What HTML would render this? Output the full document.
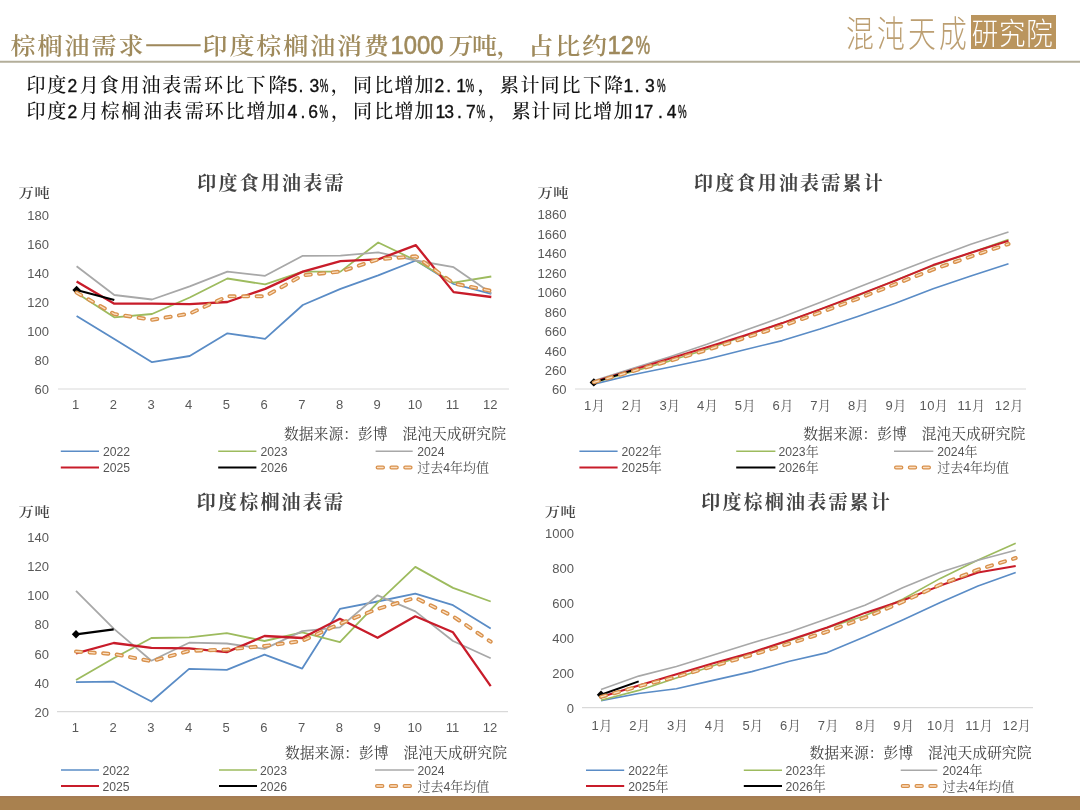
<!DOCTYPE html>
<html lang="zh-CN"><head><meta charset="utf-8"><title>棕榈油需求</title>
<style>
html,body{margin:0;padding:0;background:#fff;}
body{width:1080px;height:810px;overflow:hidden;position:relative;}
svg{position:absolute;left:0;top:0;display:block;}
</style></head><body>
<svg width="1080" height="810" viewBox="0 0 1080 810">
<rect x="0" y="0" width="1080" height="810" fill="#FFFFFF"/>
<!-- header -->
<text transform="translate(10.5,54.2) scale(1,0.9)" style="font-family:'Noto Serif CJK SC',serif;font-weight:600;font-size:25px;letter-spacing:2px" fill="#9F8A5C">棕榈油需求</text>
<text transform="translate(145.2,52.4) scale(1.3,1)" style="font-family:'Noto Serif CJK SC',serif;font-weight:600;font-size:25px;letter-spacing:-1px" fill="#9F8A5C" stroke="#9F8A5C" stroke-width="0.55">——</text>
<text transform="translate(202.6,54.2) scale(1,0.9)" style="font-family:'Noto Serif CJK SC',serif;font-weight:600;font-size:25px;letter-spacing:1.9px" fill="#9F8A5C">印度棕榈油消费</text>
<text transform="translate(390.5,54.2) scale(0.9,1)" style="font-family:'Liberation Sans',sans-serif;font-weight:400;font-size:26.5px;letter-spacing:0px" fill="#9F8A5C" stroke="#9F8A5C" stroke-width="0.6">1000</text>
<text transform="translate(0,54.2) scale(1,0.9)" x="448.4 472 496.5 528.2 555.3 582" y="0" style="font-family:'Noto Serif CJK SC',serif;font-weight:600;font-size:25px" fill="#9F8A5C">万吨，占比约</text>
<text transform="translate(607.5,54.2) scale(0.9,1)" style="font-family:'Liberation Sans',sans-serif;font-weight:400;font-size:26.5px" fill="#9F8A5C" stroke="#9F8A5C" stroke-width="0.6">12</text>
<text transform="translate(635.5,54.2) scale(0.62,1)" style="font-family:'Liberation Sans',sans-serif;font-weight:400;font-size:26.5px" fill="#9F8A5C" stroke="#9F8A5C" stroke-width="0.7">%</text>
<line x1="0" x2="1080" y1="61.8" y2="61.8" stroke="#B3AE9A" stroke-width="2"/>
<!-- logo -->
<g transform="translate(846,47.2) scale(0.96,1.25)"><text x="0" y="0" style="font-family:'Noto Sans CJK SC',sans-serif;font-weight:300;font-size:29px;letter-spacing:3.3px" fill="#BC9F72">混沌天成</text></g>
<rect x="971" y="15" width="85" height="34" fill="#BA955E"/>
<g transform="translate(1012.6,43.6) scale(1.0,1.12)"><text x="0" y="0" text-anchor="middle" style="font-family:'Noto Sans CJK SC',sans-serif;font-weight:300;font-size:26.5px;letter-spacing:0.8px" fill="#FFFFFF">研究院</text></g>
<!-- subtitle -->
<text y="91.5" fill="#111"><tspan x="26.4 47.2" style="font-family:'Noto Serif CJK SC',serif;font-size:19px;font-weight:500">印度</tspan><tspan x="67.4" style="font-family:'Liberation Sans',sans-serif;font-size:17.5px" stroke="#111" stroke-width="0.35">2</tspan><tspan x="79.7 99.7 120.6 141.4 162.2 183.1 203.9 224.9 246.4 268.5" style="font-family:'Noto Serif CJK SC',serif;font-size:19px;font-weight:500">月食用油表需环比下降</tspan><tspan x="287.6 298.4 309.5" style="font-family:'Liberation Sans',sans-serif;font-size:17.5px" stroke="#111" stroke-width="0.35">5.3</tspan><tspan x="319.8" textLength="8.6" lengthAdjust="spacingAndGlyphs" style="font-family:'Liberation Sans',sans-serif;font-size:17.5px" stroke="#111" stroke-width="0.45">%</tspan><tspan x="330.8 352.9 374.3 394.6 414.5" style="font-family:'Noto Serif CJK SC',serif;font-size:19px;font-weight:500">，同比增加</tspan><tspan x="434.6 446.2 456.3" style="font-family:'Liberation Sans',sans-serif;font-size:17.5px" stroke="#111" stroke-width="0.35">2.1</tspan><tspan x="465.4" textLength="8.6" lengthAdjust="spacingAndGlyphs" style="font-family:'Liberation Sans',sans-serif;font-size:17.5px" stroke="#111" stroke-width="0.45">%</tspan><tspan x="477.6 500.1 520.6 540.6 561.4 583.1 603.9" style="font-family:'Noto Serif CJK SC',serif;font-size:19px;font-weight:500">，累计同比下降</tspan><tspan x="623.4 634.7 644.9" style="font-family:'Liberation Sans',sans-serif;font-size:17.5px" stroke="#111" stroke-width="0.35">1.3</tspan><tspan x="656.9" textLength="8.6" lengthAdjust="spacingAndGlyphs" style="font-family:'Liberation Sans',sans-serif;font-size:17.5px" stroke="#111" stroke-width="0.45">%</tspan></text>
<text y="117.5" fill="#111"><tspan x="26.4 47.2" style="font-family:'Noto Serif CJK SC',serif;font-size:19px;font-weight:500">印度</tspan><tspan x="67.4" style="font-family:'Liberation Sans',sans-serif;font-size:17.5px" stroke="#111" stroke-width="0.35">2</tspan><tspan x="79.7 100.6 121.4 143.1 163.1 184.7 204.7 225.6 246.4 266.4" style="font-family:'Noto Serif CJK SC',serif;font-size:19px;font-weight:500">月棕榈油表需环比增加</tspan><tspan x="287.4 300.5 308.3" style="font-family:'Liberation Sans',sans-serif;font-size:17.5px" stroke="#111" stroke-width="0.35">4.6</tspan><tspan x="319.4" textLength="8.6" lengthAdjust="spacingAndGlyphs" style="font-family:'Liberation Sans',sans-serif;font-size:17.5px" stroke="#111" stroke-width="0.45">%</tspan><tspan x="331.1 353.1 374.3 394.6 414.5" style="font-family:'Noto Serif CJK SC',serif;font-size:19px;font-weight:500">，同比增加</tspan><tspan x="435.4 444.2 456.9 466.1" style="font-family:'Liberation Sans',sans-serif;font-size:17.5px" stroke="#111" stroke-width="0.35">13.7</tspan><tspan x="476.6" textLength="8.6" lengthAdjust="spacingAndGlyphs" style="font-family:'Liberation Sans',sans-serif;font-size:17.5px" stroke="#111" stroke-width="0.45">%</tspan><tspan x="488.2 511.8 531.3 551.7 572.9 593.3 613.7" style="font-family:'Noto Serif CJK SC',serif;font-size:19px;font-weight:500">，累计同比增加</tspan><tspan x="634.4 643.5 658.0 666.7" style="font-family:'Liberation Sans',sans-serif;font-size:17.5px" stroke="#111" stroke-width="0.35">17.4</tspan><tspan x="678.1" textLength="8.6" lengthAdjust="spacingAndGlyphs" style="font-family:'Liberation Sans',sans-serif;font-size:17.5px" stroke="#111" stroke-width="0.45">%</tspan></text>
<text x="271.5" y="189.5" text-anchor="middle" style="font-family:'Noto Serif CJK SC',serif;font-weight:700;font-size:19px;letter-spacing:2.2px" fill="#444444">印度食用油表需</text>
<text transform="translate(18.6,197.3) scale(1.13,0.93)" style="font-family:'Noto Serif CJK SC',serif;font-size:13.5px;letter-spacing:0.5px;font-weight:600" fill="#444">万吨</text>
<text x="49" y="219.6" text-anchor="end" style="font-family:'Liberation Sans',Arial,sans-serif;font-size:13px" fill="#595959">180</text>
<text x="49" y="248.7" text-anchor="end" style="font-family:'Liberation Sans',Arial,sans-serif;font-size:13px" fill="#595959">160</text>
<text x="49" y="277.8" text-anchor="end" style="font-family:'Liberation Sans',Arial,sans-serif;font-size:13px" fill="#595959">140</text>
<text x="49" y="306.9" text-anchor="end" style="font-family:'Liberation Sans',Arial,sans-serif;font-size:13px" fill="#595959">120</text>
<text x="49" y="336.0" text-anchor="end" style="font-family:'Liberation Sans',Arial,sans-serif;font-size:13px" fill="#595959">100</text>
<text x="49" y="365.1" text-anchor="end" style="font-family:'Liberation Sans',Arial,sans-serif;font-size:13px" fill="#595959">80</text>
<text x="49" y="394.2" text-anchor="end" style="font-family:'Liberation Sans',Arial,sans-serif;font-size:13px" fill="#595959">60</text>
<line x1="58" x2="509" y1="389" y2="389" stroke="#D9D9D9" stroke-width="1.2"/>
<text x="75.6" y="409" text-anchor="middle" style="font-family:'Liberation Sans','Noto Serif CJK SC',serif;font-size:13px" fill="#595959">1</text>
<text x="113.3" y="409" text-anchor="middle" style="font-family:'Liberation Sans','Noto Serif CJK SC',serif;font-size:13px" fill="#595959">2</text>
<text x="151.0" y="409" text-anchor="middle" style="font-family:'Liberation Sans','Noto Serif CJK SC',serif;font-size:13px" fill="#595959">3</text>
<text x="188.7" y="409" text-anchor="middle" style="font-family:'Liberation Sans','Noto Serif CJK SC',serif;font-size:13px" fill="#595959">4</text>
<text x="226.4" y="409" text-anchor="middle" style="font-family:'Liberation Sans','Noto Serif CJK SC',serif;font-size:13px" fill="#595959">5</text>
<text x="264.1" y="409" text-anchor="middle" style="font-family:'Liberation Sans','Noto Serif CJK SC',serif;font-size:13px" fill="#595959">6</text>
<text x="301.8" y="409" text-anchor="middle" style="font-family:'Liberation Sans','Noto Serif CJK SC',serif;font-size:13px" fill="#595959">7</text>
<text x="339.5" y="409" text-anchor="middle" style="font-family:'Liberation Sans','Noto Serif CJK SC',serif;font-size:13px" fill="#595959">8</text>
<text x="377.2" y="409" text-anchor="middle" style="font-family:'Liberation Sans','Noto Serif CJK SC',serif;font-size:13px" fill="#595959">9</text>
<text x="414.9" y="409" text-anchor="middle" style="font-family:'Liberation Sans','Noto Serif CJK SC',serif;font-size:13px" fill="#595959">10</text>
<text x="452.6" y="409" text-anchor="middle" style="font-family:'Liberation Sans','Noto Serif CJK SC',serif;font-size:13px" fill="#595959">11</text>
<text x="490.3" y="409" text-anchor="middle" style="font-family:'Liberation Sans','Noto Serif CJK SC',serif;font-size:13px" fill="#595959">12</text>
<polyline points="76.6,316.0 114.3,339.0 152.0,362.2 189.7,356.0 227.4,333.3 265.1,338.8 302.8,305.0 340.5,288.9 378.2,275.3 415.9,260.5 453.6,284.0 491.3,293.8" fill="none" stroke="#5A8CC6" stroke-width="1.80" stroke-linejoin="round"/>
<polyline points="76.6,293.0 114.3,317.3 152.0,314.0 189.7,297.5 227.4,278.5 265.1,284.4 302.8,271.6 340.5,271.6 378.2,242.5 415.9,260.5 453.6,282.7 491.3,276.5" fill="none" stroke="#9DBB5E" stroke-width="1.80" stroke-linejoin="round"/>
<polyline points="76.6,266.2 114.3,295.0 152.0,299.5 189.7,286.4 227.4,271.6 265.1,275.8 302.8,255.8 340.5,255.6 378.2,252.3 415.9,260.5 453.6,267.2 491.3,293.3" fill="none" stroke="#A8A8A8" stroke-width="1.80" stroke-linejoin="round"/>
<polyline points="76.6,281.5 114.3,303.7 152.0,303.7 189.7,304.2 227.4,302.0 265.1,288.9 302.8,271.6 340.5,261.2 378.2,259.3 415.9,245.2 453.6,292.1 491.3,297.0" fill="none" stroke="#C81C2A" stroke-width="2.30" stroke-linejoin="round"/>
<polyline points="76.6,290.0 114.3,300.0" fill="none" stroke="#000000" stroke-width="2.20" stroke-linejoin="round"/>
<path d="M72.4,290.0 L76.6,285.8 L80.8,290.0 L76.6,294.2 Z" fill="#000"/>
<polyline points="76.6,292.6 114.3,314.0 152.0,319.8 189.7,313.6 227.4,296.3 265.1,296.3 302.8,275.3 340.5,271.6 378.2,259.3 415.9,256.3 453.6,283.5 491.3,290.9" fill="none" stroke="#D8914C" stroke-width="4" stroke-dasharray="5.2 8.4" stroke-linecap="round" stroke-linejoin="round"/>
<polyline points="76.6,292.6 114.3,314.0 152.0,319.8 189.7,313.6 227.4,296.3 265.1,296.3 302.8,275.3 340.5,271.6 378.2,259.3 415.9,256.3 453.6,283.5 491.3,290.9" fill="none" stroke="#FBE0C4" stroke-width="1.3" stroke-dasharray="5.2 8.4" stroke-linecap="round" stroke-linejoin="round"/>
<text x="284" y="438.8" style="font-family:'Liberation Sans','Noto Serif CJK SC',serif;font-size:14.8px;letter-spacing:0px" fill="#404040">数据来源：彭博　混沌天成研究院</text>
<line x1="60.8" x2="99" y1="451.3" y2="451.3" stroke="#5A8CC6" stroke-width="1.53"/>
<text x="103" y="455.9" style="font-family:'Liberation Sans','Noto Serif CJK SC',serif;font-size:13px" fill="#555555"><tspan style="font-family:'Liberation Sans',sans-serif;font-size:12.2px">2022</tspan></text>
<line x1="218.2" x2="256.4" y1="451.3" y2="451.3" stroke="#9DBB5E" stroke-width="1.53"/>
<text x="260.4" y="455.9" style="font-family:'Liberation Sans','Noto Serif CJK SC',serif;font-size:13px" fill="#555555"><tspan style="font-family:'Liberation Sans',sans-serif;font-size:12.2px">2023</tspan></text>
<line x1="375.6" x2="412.7" y1="451.3" y2="451.3" stroke="#A8A8A8" stroke-width="1.53"/>
<text x="417.3" y="455.9" style="font-family:'Liberation Sans','Noto Serif CJK SC',serif;font-size:13px" fill="#555555"><tspan style="font-family:'Liberation Sans',sans-serif;font-size:12.2px">2024</tspan></text>
<line x1="60.8" x2="99" y1="467.5" y2="467.5" stroke="#C81C2A" stroke-width="1.95"/>
<text x="103" y="472.1" style="font-family:'Liberation Sans','Noto Serif CJK SC',serif;font-size:13px" fill="#555555"><tspan style="font-family:'Liberation Sans',sans-serif;font-size:12.2px">2025</tspan></text>
<line x1="218.2" x2="256.4" y1="467.5" y2="467.5" stroke="#000000" stroke-width="1.87"/>
<text x="260.4" y="472.1" style="font-family:'Liberation Sans','Noto Serif CJK SC',serif;font-size:13px" fill="#555555"><tspan style="font-family:'Liberation Sans',sans-serif;font-size:12.2px">2026</tspan></text>
<line x1="377.5" x2="412.7" y1="467.5" y2="467.5" stroke="#D8914C" stroke-width="3.8" stroke-dasharray="5.6 8.2" stroke-linecap="round"/>
<line x1="377.5" x2="412.7" y1="467.5" y2="467.5" stroke="#FBE0C4" stroke-width="1.3" stroke-dasharray="5.6 8.2" stroke-linecap="round"/>
<text x="417.3" y="472.1" style="font-family:'Liberation Sans','Noto Serif CJK SC',serif;font-size:13px" fill="#555555">过去<tspan style="font-family:'Liberation Sans',sans-serif;font-size:12.2px">4</tspan>年均值</text>
<text x="789.5" y="189.5" text-anchor="middle" style="font-family:'Noto Serif CJK SC',serif;font-weight:700;font-size:19px;letter-spacing:2.2px" fill="#444444">印度食用油表需累计</text>
<text transform="translate(537.4,197.3) scale(1.13,0.93)" style="font-family:'Noto Serif CJK SC',serif;font-size:13.5px;letter-spacing:0.5px;font-weight:600" fill="#444">万吨</text>
<text x="566.5" y="219.4" text-anchor="end" style="font-family:'Liberation Sans',Arial,sans-serif;font-size:13px" fill="#595959">1860</text>
<text x="566.5" y="238.8" text-anchor="end" style="font-family:'Liberation Sans',Arial,sans-serif;font-size:13px" fill="#595959">1660</text>
<text x="566.5" y="258.3" text-anchor="end" style="font-family:'Liberation Sans',Arial,sans-serif;font-size:13px" fill="#595959">1460</text>
<text x="566.5" y="277.7" text-anchor="end" style="font-family:'Liberation Sans',Arial,sans-serif;font-size:13px" fill="#595959">1260</text>
<text x="566.5" y="297.2" text-anchor="end" style="font-family:'Liberation Sans',Arial,sans-serif;font-size:13px" fill="#595959">1060</text>
<text x="566.5" y="316.6" text-anchor="end" style="font-family:'Liberation Sans',Arial,sans-serif;font-size:13px" fill="#595959">860</text>
<text x="566.5" y="336.0" text-anchor="end" style="font-family:'Liberation Sans',Arial,sans-serif;font-size:13px" fill="#595959">660</text>
<text x="566.5" y="355.5" text-anchor="end" style="font-family:'Liberation Sans',Arial,sans-serif;font-size:13px" fill="#595959">460</text>
<text x="566.5" y="374.9" text-anchor="end" style="font-family:'Liberation Sans',Arial,sans-serif;font-size:13px" fill="#595959">260</text>
<text x="566.5" y="394.4" text-anchor="end" style="font-family:'Liberation Sans',Arial,sans-serif;font-size:13px" fill="#595959">60</text>
<line x1="575" x2="1026" y1="389" y2="389" stroke="#D9D9D9" stroke-width="1.2"/>
<text x="594.6" y="410" text-anchor="middle" style="font-family:'Liberation Sans','Noto Serif CJK SC',serif;font-size:13px;letter-spacing:0.5px" fill="#595959">1月</text>
<text x="632.3" y="410" text-anchor="middle" style="font-family:'Liberation Sans','Noto Serif CJK SC',serif;font-size:13px;letter-spacing:0.5px" fill="#595959">2月</text>
<text x="670.0" y="410" text-anchor="middle" style="font-family:'Liberation Sans','Noto Serif CJK SC',serif;font-size:13px;letter-spacing:0.5px" fill="#595959">3月</text>
<text x="707.7" y="410" text-anchor="middle" style="font-family:'Liberation Sans','Noto Serif CJK SC',serif;font-size:13px;letter-spacing:0.5px" fill="#595959">4月</text>
<text x="745.4" y="410" text-anchor="middle" style="font-family:'Liberation Sans','Noto Serif CJK SC',serif;font-size:13px;letter-spacing:0.5px" fill="#595959">5月</text>
<text x="783.1" y="410" text-anchor="middle" style="font-family:'Liberation Sans','Noto Serif CJK SC',serif;font-size:13px;letter-spacing:0.5px" fill="#595959">6月</text>
<text x="820.8" y="410" text-anchor="middle" style="font-family:'Liberation Sans','Noto Serif CJK SC',serif;font-size:13px;letter-spacing:0.5px" fill="#595959">7月</text>
<text x="858.5" y="410" text-anchor="middle" style="font-family:'Liberation Sans','Noto Serif CJK SC',serif;font-size:13px;letter-spacing:0.5px" fill="#595959">8月</text>
<text x="896.2" y="410" text-anchor="middle" style="font-family:'Liberation Sans','Noto Serif CJK SC',serif;font-size:13px;letter-spacing:0.5px" fill="#595959">9月</text>
<text x="933.9" y="410" text-anchor="middle" style="font-family:'Liberation Sans','Noto Serif CJK SC',serif;font-size:13px;letter-spacing:0.5px" fill="#595959">10月</text>
<text x="971.6" y="410" text-anchor="middle" style="font-family:'Liberation Sans','Noto Serif CJK SC',serif;font-size:13px;letter-spacing:0.5px" fill="#595959">11月</text>
<text x="1009.3" y="410" text-anchor="middle" style="font-family:'Liberation Sans','Noto Serif CJK SC',serif;font-size:13px;letter-spacing:0.5px" fill="#595959">12月</text>
<polyline points="593.8,384.1 631.5,375.0 669.2,367.3 706.9,359.3 744.6,349.7 782.3,340.6 820.0,329.1 857.7,316.6 895.4,303.2 933.1,288.7 970.8,275.9 1008.5,263.7" fill="none" stroke="#5A8CC6" stroke-width="1.62" stroke-linejoin="round"/>
<polyline points="593.8,382.6 631.5,372.0 669.2,361.1 706.9,349.2 744.6,336.0 782.3,323.1 820.0,309.5 857.7,295.8 895.4,280.2 933.1,265.8 970.8,252.8 1008.5,239.5" fill="none" stroke="#9DBB5E" stroke-width="1.62" stroke-linejoin="round"/>
<polyline points="593.8,380.8 631.5,368.7 669.2,356.9 706.9,344.2 744.6,330.5 782.3,317.1 820.0,302.4 857.7,287.6 895.4,272.7 933.1,258.3 970.8,244.3 1008.5,232.1" fill="none" stroke="#A8A8A8" stroke-width="1.62" stroke-linejoin="round"/>
<polyline points="593.8,381.8 631.5,370.3 669.2,358.8 706.9,347.3 744.6,335.6 782.3,323.1 820.0,309.4 857.7,295.1 895.4,280.6 933.1,265.1 970.8,252.8 1008.5,240.8" fill="none" stroke="#C81C2A" stroke-width="2.07" stroke-linejoin="round"/>
<polyline points="593.8,382.4 631.5,370.6" fill="none" stroke="#000000" stroke-width="1.98" stroke-linejoin="round"/>
<path d="M589.6,382.4 L593.8,378.2 L598.0,382.4 L593.8,386.6 Z" fill="#000"/>
<polyline points="593.8,382.3 631.5,371.5 669.2,361.0 706.9,350.0 744.6,338.0 782.3,326.0 820.0,312.6 857.7,298.8 895.4,284.1 933.1,269.5 970.8,256.5 1008.5,244.0" fill="none" stroke="#D8914C" stroke-width="4" stroke-dasharray="5.2 8.4" stroke-linecap="round" stroke-linejoin="round"/>
<polyline points="593.8,382.3 631.5,371.5 669.2,361.0 706.9,350.0 744.6,338.0 782.3,326.0 820.0,312.6 857.7,298.8 895.4,284.1 933.1,269.5 970.8,256.5 1008.5,244.0" fill="none" stroke="#FBE0C4" stroke-width="1.3" stroke-dasharray="5.2 8.4" stroke-linecap="round" stroke-linejoin="round"/>
<text x="803.3" y="439" style="font-family:'Liberation Sans','Noto Serif CJK SC',serif;font-size:14.8px;letter-spacing:0px" fill="#404040">数据来源：彭博　混沌天成研究院</text>
<line x1="579.4" x2="617.6" y1="451.2" y2="451.2" stroke="#5A8CC6" stroke-width="1.53"/>
<text x="621.6" y="455.8" style="font-family:'Liberation Sans','Noto Serif CJK SC',serif;font-size:13px" fill="#555555"><tspan style="font-family:'Liberation Sans',sans-serif;font-size:12.2px">2022</tspan>年</text>
<line x1="736.2" x2="775.4" y1="451.2" y2="451.2" stroke="#9DBB5E" stroke-width="1.53"/>
<text x="778.5" y="455.8" style="font-family:'Liberation Sans','Noto Serif CJK SC',serif;font-size:13px" fill="#555555"><tspan style="font-family:'Liberation Sans',sans-serif;font-size:12.2px">2023</tspan>年</text>
<line x1="894" x2="933.3" y1="451.2" y2="451.2" stroke="#A8A8A8" stroke-width="1.53"/>
<text x="937.3" y="455.8" style="font-family:'Liberation Sans','Noto Serif CJK SC',serif;font-size:13px" fill="#555555"><tspan style="font-family:'Liberation Sans',sans-serif;font-size:12.2px">2024</tspan>年</text>
<line x1="579.4" x2="617.6" y1="467.5" y2="467.5" stroke="#C81C2A" stroke-width="1.95"/>
<text x="621.6" y="472.1" style="font-family:'Liberation Sans','Noto Serif CJK SC',serif;font-size:13px" fill="#555555"><tspan style="font-family:'Liberation Sans',sans-serif;font-size:12.2px">2025</tspan>年</text>
<line x1="736.2" x2="775.4" y1="467.5" y2="467.5" stroke="#000000" stroke-width="1.87"/>
<text x="778.5" y="472.1" style="font-family:'Liberation Sans','Noto Serif CJK SC',serif;font-size:13px" fill="#555555"><tspan style="font-family:'Liberation Sans',sans-serif;font-size:12.2px">2026</tspan>年</text>
<line x1="895.9" x2="933.3" y1="467.5" y2="467.5" stroke="#D8914C" stroke-width="3.8" stroke-dasharray="5.6 8.2" stroke-linecap="round"/>
<line x1="895.9" x2="933.3" y1="467.5" y2="467.5" stroke="#FBE0C4" stroke-width="1.3" stroke-dasharray="5.6 8.2" stroke-linecap="round"/>
<text x="937.3" y="472.1" style="font-family:'Liberation Sans','Noto Serif CJK SC',serif;font-size:13px" fill="#555555">过去<tspan style="font-family:'Liberation Sans',sans-serif;font-size:12.2px">4</tspan>年均值</text>
<text x="271" y="508.5" text-anchor="middle" style="font-family:'Noto Serif CJK SC',serif;font-weight:700;font-size:19px;letter-spacing:2.2px" fill="#444444">印度棕榈油表需</text>
<text transform="translate(18.6,516) scale(1.13,0.93)" style="font-family:'Noto Serif CJK SC',serif;font-size:13.5px;letter-spacing:0.5px;font-weight:600" fill="#444">万吨</text>
<text x="49" y="542.0" text-anchor="end" style="font-family:'Liberation Sans',Arial,sans-serif;font-size:13px" fill="#595959">140</text>
<text x="49" y="571.1" text-anchor="end" style="font-family:'Liberation Sans',Arial,sans-serif;font-size:13px" fill="#595959">120</text>
<text x="49" y="600.3" text-anchor="end" style="font-family:'Liberation Sans',Arial,sans-serif;font-size:13px" fill="#595959">100</text>
<text x="49" y="629.4" text-anchor="end" style="font-family:'Liberation Sans',Arial,sans-serif;font-size:13px" fill="#595959">80</text>
<text x="49" y="658.5" text-anchor="end" style="font-family:'Liberation Sans',Arial,sans-serif;font-size:13px" fill="#595959">60</text>
<text x="49" y="687.6" text-anchor="end" style="font-family:'Liberation Sans',Arial,sans-serif;font-size:13px" fill="#595959">40</text>
<text x="49" y="716.8" text-anchor="end" style="font-family:'Liberation Sans',Arial,sans-serif;font-size:13px" fill="#595959">20</text>
<line x1="57" x2="508" y1="711.6" y2="711.6" stroke="#D9D9D9" stroke-width="1.2"/>
<text x="75.4" y="732" text-anchor="middle" style="font-family:'Liberation Sans','Noto Serif CJK SC',serif;font-size:13px" fill="#595959">1</text>
<text x="113.1" y="732" text-anchor="middle" style="font-family:'Liberation Sans','Noto Serif CJK SC',serif;font-size:13px" fill="#595959">2</text>
<text x="150.8" y="732" text-anchor="middle" style="font-family:'Liberation Sans','Noto Serif CJK SC',serif;font-size:13px" fill="#595959">3</text>
<text x="188.5" y="732" text-anchor="middle" style="font-family:'Liberation Sans','Noto Serif CJK SC',serif;font-size:13px" fill="#595959">4</text>
<text x="226.2" y="732" text-anchor="middle" style="font-family:'Liberation Sans','Noto Serif CJK SC',serif;font-size:13px" fill="#595959">5</text>
<text x="263.9" y="732" text-anchor="middle" style="font-family:'Liberation Sans','Noto Serif CJK SC',serif;font-size:13px" fill="#595959">6</text>
<text x="301.6" y="732" text-anchor="middle" style="font-family:'Liberation Sans','Noto Serif CJK SC',serif;font-size:13px" fill="#595959">7</text>
<text x="339.3" y="732" text-anchor="middle" style="font-family:'Liberation Sans','Noto Serif CJK SC',serif;font-size:13px" fill="#595959">8</text>
<text x="377.0" y="732" text-anchor="middle" style="font-family:'Liberation Sans','Noto Serif CJK SC',serif;font-size:13px" fill="#595959">9</text>
<text x="414.7" y="732" text-anchor="middle" style="font-family:'Liberation Sans','Noto Serif CJK SC',serif;font-size:13px" fill="#595959">10</text>
<text x="452.4" y="732" text-anchor="middle" style="font-family:'Liberation Sans','Noto Serif CJK SC',serif;font-size:13px" fill="#595959">11</text>
<text x="490.1" y="732" text-anchor="middle" style="font-family:'Liberation Sans','Noto Serif CJK SC',serif;font-size:13px" fill="#595959">12</text>
<polyline points="76.0,682.2 113.7,681.7 151.4,701.5 189.1,668.9 226.8,669.9 264.5,654.6 302.2,668.6 339.9,608.9 377.6,601.5 415.3,593.6 453.0,605.2 490.7,628.6" fill="none" stroke="#5A8CC6" stroke-width="1.80" stroke-linejoin="round"/>
<polyline points="76.0,680.0 113.7,658.3 151.4,638.0 189.1,637.3 226.8,633.1 264.5,641.0 302.2,632.3 339.9,642.2 377.6,602.7 415.3,566.9 453.0,587.9 490.7,601.5" fill="none" stroke="#9DBB5E" stroke-width="1.80" stroke-linejoin="round"/>
<polyline points="76.0,590.9 113.7,628.6 151.4,660.7 189.1,642.7 226.8,643.5 264.5,648.9 302.2,631.1 339.9,627.4 377.6,595.3 415.3,611.4 453.0,641.0 490.7,658.3" fill="none" stroke="#A8A8A8" stroke-width="1.80" stroke-linejoin="round"/>
<polyline points="76.0,653.3 113.7,643.0 151.4,647.9 189.1,648.4 226.8,652.1 264.5,636.0 302.2,638.0 339.9,618.8 377.6,637.8 415.3,616.3 453.0,632.3 490.7,686.2" fill="none" stroke="#C81C2A" stroke-width="2.30" stroke-linejoin="round"/>
<polyline points="76.0,634.3 113.7,629.4" fill="none" stroke="#000000" stroke-width="2.20" stroke-linejoin="round"/>
<path d="M71.8,634.3 L76.0,630.1 L80.2,634.3 L76.0,638.5 Z" fill="#000"/>
<polyline points="76.0,651.6 113.7,654.0 151.4,661.2 189.1,650.9 226.8,649.6 264.5,646.0 302.2,641.0 339.9,623.7 377.6,608.9 415.3,597.8 453.0,616.3 490.7,641.7" fill="none" stroke="#D8914C" stroke-width="4" stroke-dasharray="5.2 8.4" stroke-linecap="round" stroke-linejoin="round"/>
<polyline points="76.0,651.6 113.7,654.0 151.4,661.2 189.1,650.9 226.8,649.6 264.5,646.0 302.2,641.0 339.9,623.7 377.6,608.9 415.3,597.8 453.0,616.3 490.7,641.7" fill="none" stroke="#FBE0C4" stroke-width="1.3" stroke-dasharray="5.2 8.4" stroke-linecap="round" stroke-linejoin="round"/>
<text x="285" y="757.5" style="font-family:'Liberation Sans','Noto Serif CJK SC',serif;font-size:14.8px;letter-spacing:0px" fill="#404040">数据来源：彭博　混沌天成研究院</text>
<line x1="61" x2="99" y1="770" y2="770" stroke="#5A8CC6" stroke-width="1.53"/>
<text x="102.5" y="774.6" style="font-family:'Liberation Sans','Noto Serif CJK SC',serif;font-size:13px" fill="#555555"><tspan style="font-family:'Liberation Sans',sans-serif;font-size:12.2px">2022</tspan></text>
<line x1="219" x2="257" y1="770" y2="770" stroke="#9DBB5E" stroke-width="1.53"/>
<text x="260" y="774.6" style="font-family:'Liberation Sans','Noto Serif CJK SC',serif;font-size:13px" fill="#555555"><tspan style="font-family:'Liberation Sans',sans-serif;font-size:12.2px">2023</tspan></text>
<line x1="375" x2="414" y1="770" y2="770" stroke="#A8A8A8" stroke-width="1.53"/>
<text x="417.5" y="774.6" style="font-family:'Liberation Sans','Noto Serif CJK SC',serif;font-size:13px" fill="#555555"><tspan style="font-family:'Liberation Sans',sans-serif;font-size:12.2px">2024</tspan></text>
<line x1="61" x2="99" y1="786" y2="786" stroke="#C81C2A" stroke-width="1.95"/>
<text x="102.5" y="790.6" style="font-family:'Liberation Sans','Noto Serif CJK SC',serif;font-size:13px" fill="#555555"><tspan style="font-family:'Liberation Sans',sans-serif;font-size:12.2px">2025</tspan></text>
<line x1="219" x2="257" y1="786" y2="786" stroke="#000000" stroke-width="1.87"/>
<text x="260" y="790.6" style="font-family:'Liberation Sans','Noto Serif CJK SC',serif;font-size:13px" fill="#555555"><tspan style="font-family:'Liberation Sans',sans-serif;font-size:12.2px">2026</tspan></text>
<line x1="376.9" x2="414.0" y1="786" y2="786" stroke="#D8914C" stroke-width="3.8" stroke-dasharray="5.6 8.2" stroke-linecap="round"/>
<line x1="376.9" x2="414.0" y1="786" y2="786" stroke="#FBE0C4" stroke-width="1.3" stroke-dasharray="5.6 8.2" stroke-linecap="round"/>
<text x="417.5" y="790.6" style="font-family:'Liberation Sans','Noto Serif CJK SC',serif;font-size:13px" fill="#555555">过去<tspan style="font-family:'Liberation Sans',sans-serif;font-size:12.2px">4</tspan>年均值</text>
<text x="796.6" y="508.5" text-anchor="middle" style="font-family:'Noto Serif CJK SC',serif;font-weight:700;font-size:19px;letter-spacing:2.2px" fill="#444444">印度棕榈油表需累计</text>
<text transform="translate(544.8,516.3) scale(1.13,0.93)" style="font-family:'Noto Serif CJK SC',serif;font-size:13.5px;letter-spacing:0.5px;font-weight:600" fill="#444">万吨</text>
<text x="574" y="537.8" text-anchor="end" style="font-family:'Liberation Sans',Arial,sans-serif;font-size:13px" fill="#595959">1000</text>
<text x="574" y="572.8" text-anchor="end" style="font-family:'Liberation Sans',Arial,sans-serif;font-size:13px" fill="#595959">800</text>
<text x="574" y="607.8" text-anchor="end" style="font-family:'Liberation Sans',Arial,sans-serif;font-size:13px" fill="#595959">600</text>
<text x="574" y="642.8" text-anchor="end" style="font-family:'Liberation Sans',Arial,sans-serif;font-size:13px" fill="#595959">400</text>
<text x="574" y="677.8" text-anchor="end" style="font-family:'Liberation Sans',Arial,sans-serif;font-size:13px" fill="#595959">200</text>
<text x="574" y="712.8" text-anchor="end" style="font-family:'Liberation Sans',Arial,sans-serif;font-size:13px" fill="#595959">0</text>
<line x1="582" x2="1033" y1="707.6" y2="707.6" stroke="#D9D9D9" stroke-width="1.2"/>
<text x="602.2" y="730" text-anchor="middle" style="font-family:'Liberation Sans','Noto Serif CJK SC',serif;font-size:13px;letter-spacing:0.5px" fill="#595959">1月</text>
<text x="639.9" y="730" text-anchor="middle" style="font-family:'Liberation Sans','Noto Serif CJK SC',serif;font-size:13px;letter-spacing:0.5px" fill="#595959">2月</text>
<text x="677.6" y="730" text-anchor="middle" style="font-family:'Liberation Sans','Noto Serif CJK SC',serif;font-size:13px;letter-spacing:0.5px" fill="#595959">3月</text>
<text x="715.3" y="730" text-anchor="middle" style="font-family:'Liberation Sans','Noto Serif CJK SC',serif;font-size:13px;letter-spacing:0.5px" fill="#595959">4月</text>
<text x="753.0" y="730" text-anchor="middle" style="font-family:'Liberation Sans','Noto Serif CJK SC',serif;font-size:13px;letter-spacing:0.5px" fill="#595959">5月</text>
<text x="790.7" y="730" text-anchor="middle" style="font-family:'Liberation Sans','Noto Serif CJK SC',serif;font-size:13px;letter-spacing:0.5px" fill="#595959">6月</text>
<text x="828.4" y="730" text-anchor="middle" style="font-family:'Liberation Sans','Noto Serif CJK SC',serif;font-size:13px;letter-spacing:0.5px" fill="#595959">7月</text>
<text x="866.1" y="730" text-anchor="middle" style="font-family:'Liberation Sans','Noto Serif CJK SC',serif;font-size:13px;letter-spacing:0.5px" fill="#595959">8月</text>
<text x="903.8" y="730" text-anchor="middle" style="font-family:'Liberation Sans','Noto Serif CJK SC',serif;font-size:13px;letter-spacing:0.5px" fill="#595959">9月</text>
<text x="941.5" y="730" text-anchor="middle" style="font-family:'Liberation Sans','Noto Serif CJK SC',serif;font-size:13px;letter-spacing:0.5px" fill="#595959">10月</text>
<text x="979.2" y="730" text-anchor="middle" style="font-family:'Liberation Sans','Noto Serif CJK SC',serif;font-size:13px;letter-spacing:0.5px" fill="#595959">11月</text>
<text x="1016.9" y="730" text-anchor="middle" style="font-family:'Liberation Sans','Noto Serif CJK SC',serif;font-size:13px;letter-spacing:0.5px" fill="#595959">12月</text>
<polyline points="601.0,700.6 638.7,693.5 676.4,688.8 714.1,680.1 751.8,671.6 789.5,661.3 827.2,652.6 864.9,636.8 902.6,620.0 940.3,602.4 978.0,586.1 1015.7,572.6" fill="none" stroke="#5A8CC6" stroke-width="1.62" stroke-linejoin="round"/>
<polyline points="601.0,700.3 638.7,690.4 676.4,678.1 714.1,665.6 751.8,652.7 789.5,640.7 827.2,627.7 864.9,615.8 902.6,599.3 940.3,578.4 978.0,560.0 1015.7,543.3" fill="none" stroke="#9DBB5E" stroke-width="1.62" stroke-linejoin="round"/>
<polyline points="601.0,689.6 638.7,676.1 676.4,666.5 714.1,654.7 751.8,643.0 789.5,632.0 827.2,618.8 864.9,605.2 902.6,587.8 940.3,572.2 978.0,560.2 1015.7,550.3" fill="none" stroke="#A8A8A8" stroke-width="1.62" stroke-linejoin="round"/>
<polyline points="601.0,697.1 638.7,685.4 676.4,674.2 714.1,663.1 751.8,652.5 789.5,639.9 827.2,627.5 864.9,612.9 902.6,600.5 940.3,585.6 978.0,572.5 1015.7,566.0" fill="none" stroke="#C81C2A" stroke-width="2.07" stroke-linejoin="round"/>
<polyline points="601.0,694.8 638.7,681.4" fill="none" stroke="#000000" stroke-width="1.98" stroke-linejoin="round"/>
<path d="M596.8,694.8 L601.0,690.6 L605.2,694.8 L601.0,699.0 Z" fill="#000"/>
<polyline points="601.0,696.9 638.7,686.3 676.4,676.9 714.1,665.9 751.8,655.0 789.5,643.5 827.2,631.7 864.9,617.7 902.6,601.9 940.3,584.6 978.0,569.7 1015.7,558.0" fill="none" stroke="#D8914C" stroke-width="4" stroke-dasharray="5.2 8.4" stroke-linecap="round" stroke-linejoin="round"/>
<polyline points="601.0,696.9 638.7,686.3 676.4,676.9 714.1,665.9 751.8,655.0 789.5,643.5 827.2,631.7 864.9,617.7 902.6,601.9 940.3,584.6 978.0,569.7 1015.7,558.0" fill="none" stroke="#FBE0C4" stroke-width="1.3" stroke-dasharray="5.2 8.4" stroke-linecap="round" stroke-linejoin="round"/>
<text x="809.5" y="757.6" style="font-family:'Liberation Sans','Noto Serif CJK SC',serif;font-size:14.8px;letter-spacing:0px" fill="#404040">数据来源：彭博　混沌天成研究院</text>
<line x1="586" x2="624.2" y1="770.2" y2="770.2" stroke="#5A8CC6" stroke-width="1.53"/>
<text x="628.3" y="774.8" style="font-family:'Liberation Sans','Noto Serif CJK SC',serif;font-size:13px" fill="#555555"><tspan style="font-family:'Liberation Sans',sans-serif;font-size:12.2px">2022</tspan>年</text>
<line x1="743.8" x2="782" y1="770.2" y2="770.2" stroke="#9DBB5E" stroke-width="1.53"/>
<text x="785.6" y="774.8" style="font-family:'Liberation Sans','Noto Serif CJK SC',serif;font-size:13px" fill="#555555"><tspan style="font-family:'Liberation Sans',sans-serif;font-size:12.2px">2023</tspan>年</text>
<line x1="900.7" x2="937.3" y1="770.2" y2="770.2" stroke="#A8A8A8" stroke-width="1.53"/>
<text x="942.4" y="774.8" style="font-family:'Liberation Sans','Noto Serif CJK SC',serif;font-size:13px" fill="#555555"><tspan style="font-family:'Liberation Sans',sans-serif;font-size:12.2px">2024</tspan>年</text>
<line x1="586" x2="624.2" y1="786" y2="786" stroke="#C81C2A" stroke-width="1.95"/>
<text x="628.3" y="790.6" style="font-family:'Liberation Sans','Noto Serif CJK SC',serif;font-size:13px" fill="#555555"><tspan style="font-family:'Liberation Sans',sans-serif;font-size:12.2px">2025</tspan>年</text>
<line x1="743.8" x2="782" y1="786" y2="786" stroke="#000000" stroke-width="1.87"/>
<text x="785.6" y="790.6" style="font-family:'Liberation Sans','Noto Serif CJK SC',serif;font-size:13px" fill="#555555"><tspan style="font-family:'Liberation Sans',sans-serif;font-size:12.2px">2026</tspan>年</text>
<line x1="902.6" x2="937.3" y1="786" y2="786" stroke="#D8914C" stroke-width="3.8" stroke-dasharray="5.6 8.2" stroke-linecap="round"/>
<line x1="902.6" x2="937.3" y1="786" y2="786" stroke="#FBE0C4" stroke-width="1.3" stroke-dasharray="5.6 8.2" stroke-linecap="round"/>
<text x="942.4" y="790.6" style="font-family:'Liberation Sans','Noto Serif CJK SC',serif;font-size:13px" fill="#555555">过去<tspan style="font-family:'Liberation Sans',sans-serif;font-size:12.2px">4</tspan>年均值</text>
<!-- bottom bar -->
<rect x="0" y="796" width="1080" height="14" fill="#A9814F"/>
<rect x="0" y="796" width="1080" height="1.5" fill="#A47B55"/>
</svg>
</body></html>
